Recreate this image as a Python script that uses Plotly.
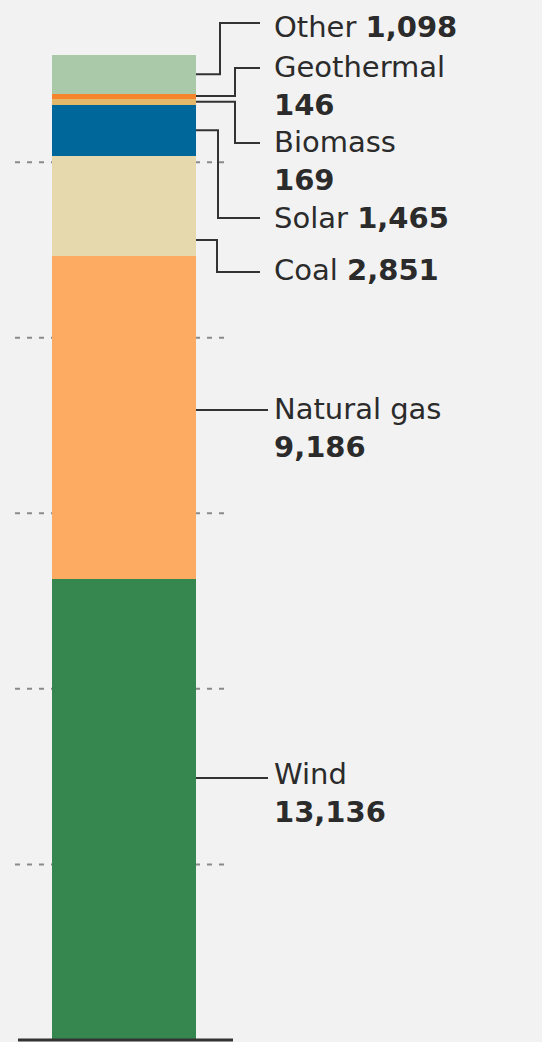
import plotly.graph_objects as go

# ---- data ----
categories = ["Wind", "Natural gas", "Coal", "Solar", "Biomass", "Geothermal", "Other"]
values = [13136, 9186, 2851, 1465, 169, 146, 1098]
colors = ["#35874f", "#fdab63", "#e6d9ae", "#00679b", "#e3b86a", "#f6842a", "#a9c9a8"]
grid_values = [5000, 10000, 15000, 20000, 25000]

# ---- layout constants (pixels) ----
W, H = 542, 1042
BASE_PX, TOP_PX = 1040, 55
BAR_X, BAR_W = 124, 144
BAR_RIGHT = BAR_X + BAR_W / 2

total = sum(values)
scale = (BASE_PX - TOP_PX) / total
Y1 = BASE_PX / scale
Y0 = -(H - BASE_PX) / scale


def py(px):
    """pixel row -> data y"""
    return Y1 - px / scale


# label layout: category -> (connector start px or None for mid, elbow x, end px y, text center px, html)
label_layout = {
    "Other": (None, 220, 23, 27, "Other <b>1,098</b>"),
    "Geothermal": (None, 235, 68, 86, "Geothermal<br><b>146</b>"),
    "Biomass": (None, 235, 143, 161, "Biomass<br><b>169</b>"),
    "Solar": (None, 218, 218, 218, "Solar <b>1,465</b>"),
    "Coal": (240, 217, 272, 270, "Coal <b>2,851</b>"),
    "Natural gas": (410, None, 410, 428, "Natural gas<br><b>9,186</b>"),
    "Wind": (778, None, 778, 793, "Wind<br><b>13,136</b>"),
}
LINE_END_X = 260
TEXT_X = 272
TEXT_COLOR = "#2b2b2b"

fig = go.Figure()
for cat, val, col in zip(categories, values, colors):
    fig.add_trace(go.Bar(x=[BAR_X], y=[val], width=BAR_W, name=cat,
                         marker=dict(color=col, line=dict(width=0)),
                         hoverinfo="name+y"))

shapes = []
for g in grid_values:
    shapes.append(dict(type="line", xref="x", yref="y", x0=15, x1=230, y0=g, y1=g,
                       line=dict(color="#8a8a8a", width=2, dash="5px,7px"), layer="below"))
shapes.append(dict(type="line", xref="x", yref="y", x0=18, x1=233, y0=0, y1=0,
                   line=dict(color="#333333", width=3), layer="above"))

annotations = []
cum = 0
for cat, val in zip(categories, values):
    start_px, elbow_x, end_px, text_px, txt = label_layout[cat]
    y_start = cum + val / 2 if start_px is None else py(start_px)
    y_end = py(end_px)
    lc = dict(color="#333333", width=2)
    if elbow_x is None:
        shapes.append(dict(type="line", xref="x", yref="y", x0=BAR_RIGHT, x1=LINE_END_X + 8,
                           y0=y_start, y1=y_start, line=lc))
    else:
        shapes.append(dict(type="path", xref="x", yref="y",
                           path=f"M {BAR_RIGHT},{y_start} L {elbow_x},{y_start} L {elbow_x},{y_end} L {LINE_END_X},{y_end}",
                           line=lc))
    annotations.append(dict(x=TEXT_X, y=py(text_px), xref="x", yref="y", text=txt,
                            showarrow=False, xanchor="left", yanchor="middle", align="left",
                            font=dict(family="DejaVu Sans", size=29, color=TEXT_COLOR)))
    cum += val

fig.update_layout(
    width=W, height=H, barmode="stack", showlegend=False,
    margin=dict(l=0, r=0, t=0, b=0),
    paper_bgcolor="#f2f2f2", plot_bgcolor="#f2f2f2",
    xaxis=dict(range=[0, W], visible=False, fixedrange=True),
    yaxis=dict(range=[Y0, Y1], visible=False, fixedrange=True),
    shapes=shapes, annotations=annotations,
)
fig.write_html(
    "out.html",
    config={"displayModeBar": False},
    post_script="document.body.style.margin='0';document.body.style.background='#f2f2f2';"
                "document.body.style.overflow='hidden';",
)
